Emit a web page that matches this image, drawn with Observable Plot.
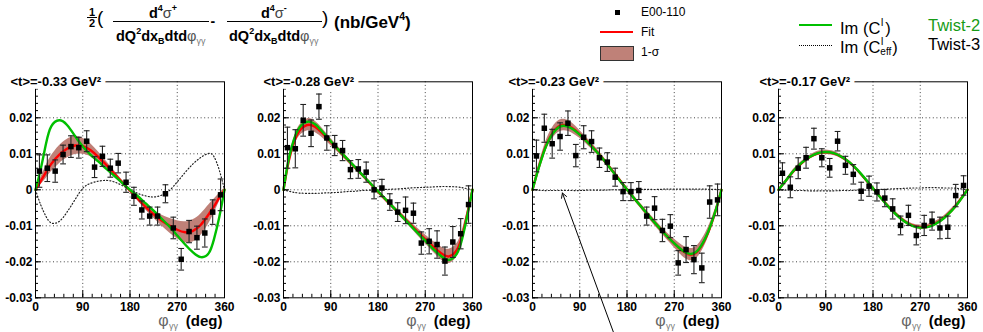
<!DOCTYPE html>
<html><head><meta charset="utf-8">
<script src="https://cdn.jsdelivr.net/npm/d3@7"></script>
<script src="https://cdn.jsdelivr.net/npm/@observablehq/plot@0.6"></script>
<style>
html,body{margin:0;padding:0;background:#fff;overflow:hidden;}
#root{position:relative;width:983px;height:332px;font-family:"Liberation Sans",Arial,Helvetica,sans-serif;color:#000;}
.t{position:absolute;white-space:nowrap;line-height:1;z-index:5;}
.sup{font-size:.62em;line-height:0;vertical-align:.75em;}
.sub{font-size:.62em;line-height:0;vertical-align:-.32em;}
.panel{position:absolute;top:60px;}
.sw{position:absolute;z-index:5;}
</style></head><body><div id="root"></div>
<script>
// ---------------- data ----------------
const phiBins = [7.5,22.5,37.5,52.5,67.5,82.5,97.5,112.5,127.5,142.5,157.5,172.5,187.5,202.5,217.5,232.5,247.5,262.5,277.5,292.5,307.5,322.5,337.5,352.5];
const panelTitles = ["<t>=-0.33 GeV²","<t>=-0.28 GeV²","<t>=-0.23 GeV²","<t>=-0.17 GeV²"];

const asym_033 = [0.0052,0.0060,0.0052,0.0098,0.0120,0.0117,0.0135,0.0063,0.0093,0.0060,0.0074,0.0021,-0.0018,-0.0056,-0.0073,-0.0073,-0.0011,-0.0106,-0.0193,-0.0116,-0.0133,-0.0120,-0.0062,-0.0014];
const err_033  = [0.0045,0.0037,0.0031,0.0026,0.0030,0.0029,0.0029,0.0029,0.0028,0.0025,0.0027,0.0028,0.0025,0.0025,0.0025,0.0025,0.0025,0.0030,0.0030,0.0031,0.0032,0.0039,0.0034,0.0044];
const asym_028 = [0.0117,0.0114,0.0193,0.0157,0.0231,0.0144,0.0123,0.0109,0.0056,0.0058,0.0049,0.0000,0.0005,-0.0034,-0.0062,-0.0057,-0.0065,-0.0148,-0.0143,-0.0152,-0.0198,-0.0145,-0.0122,-0.0041];
const err_028  = [0.0057,0.0053,0.0044,0.0037,0.0035,0.0034,0.0028,0.0028,0.0025,0.0026,0.0028,0.0025,0.0024,0.0023,0.0026,0.0037,0.0028,0.0031,0.0035,0.0038,0.0039,0.0043,0.0042,0.0052];
const asym_023 = [0.0094,0.0171,0.0128,0.0148,0.0185,0.0095,0.0146,0.0134,0.0089,0.0077,0.0035,-0.0005,-0.0005,-0.0002,-0.0073,-0.0051,-0.0113,-0.0101,-0.0203,-0.0166,-0.0194,-0.0217,-0.0034,-0.0028];
const err_023  = [0.0044,0.0039,0.0040,0.0038,0.0034,0.0031,0.0032,0.0030,0.0027,0.0026,0.0025,0.0025,0.0025,0.0025,0.0025,0.0032,0.0031,0.0032,0.0034,0.0036,0.0039,0.0041,0.0045,0.0044];
const asym_017 = [0.0046,0.0007,0.0060,0.0089,0.0142,0.0089,0.0061,0.0135,0.0068,0.0043,-0.0004,0.0010,-0.0006,-0.0023,-0.0053,-0.0099,-0.0071,-0.0127,-0.0099,-0.0087,-0.0106,-0.0104,-0.0016,0.0012];
const err_017  = [0.0029,0.0029,0.0029,0.0029,0.0029,0.0025,0.0026,0.0027,0.0025,0.0027,0.0025,0.0028,0.0025,0.0024,0.0028,0.0026,0.0028,0.0026,0.0028,0.0025,0.0030,0.0031,0.0031,0.0027];

const curvePhi = [0,10,20,30,45,60,75,90,105,120,135,150,165,180,195,210,225,240,255,270,285,300,315,330,340,350,360];
const fit_033  = [0,0.0024,0.0049,0.0072,0.0097,0.0114,0.0123,0.0121,0.0110,0.0091,0.0069,0.0045,0.0021,-0.0002,-0.0025,-0.0048,-0.0068,-0.0085,-0.0099,-0.0111,-0.0118,-0.0114,-0.0097,-0.0068,-0.0046,-0.0022,0];
const band_033 = [0.0003,0.0010,0.0018,0.0022,0.0025,0.0026,0.0025,0.0022,0.0018,0.0014,0.0010,0.0008,0.0006,0.0005,0.0006,0.0008,0.0011,0.0015,0.0020,0.0025,0.0029,0.0031,0.0030,0.0026,0.0020,0.0012,0.0004];
const tw2_033  = [0,0.0058,0.0128,0.0176,0.0193,0.0180,0.0150,0.0120,0.0097,0.0078,0.0058,0.0039,0.0019,0,-0.0018,-0.0038,-0.0058,-0.0080,-0.0102,-0.0127,-0.0152,-0.0174,-0.0187,-0.0176,-0.0137,-0.0076,0];
const tw3_033  = [0,-0.0042,-0.0074,-0.0092,-0.0088,-0.0062,-0.0028,0.0004,0.0018,0.0024,0.0026,0.0022,0.0012,0.0001,-0.0010,-0.0017,-0.0020,-0.0015,-0.0002,0.0022,0.0048,0.0072,0.0090,0.0101,0.0092,0.0055,0];

const fit_028  = [0,0.0080,0.0132,0.0163,0.0180,0.0175,0.0156,0.0133,0.0110,0.0087,0.0064,0.0041,0.0018,-0.0005,-0.0028,-0.0050,-0.0072,-0.0094,-0.0116,-0.0137,-0.0158,-0.0176,-0.0185,-0.0168,-0.0130,-0.0068,0];
const band_028 = [0.0003,0.0008,0.0012,0.0015,0.0017,0.0016,0.0013,0.0010,0.0008,0.0007,0.0006,0.0005,0.0005,0.0005,0.0005,0.0006,0.0007,0.0008,0.0010,0.0012,0.0015,0.0018,0.0020,0.0018,0.0014,0.0009,0.0004];
const tw2_028  = [0,0.0086,0.0140,0.0172,0.0189,0.0182,0.0160,0.0135,0.0111,0.0088,0.0065,0.0042,0.0019,-0.0004,-0.0027,-0.0050,-0.0073,-0.0096,-0.0119,-0.0141,-0.0164,-0.0184,-0.0195,-0.0178,-0.0138,-0.0073,0];
const tw3_028  = [0,-0.0004,-0.0007,-0.0009,-0.0010,-0.0010,-0.0009,-0.0008,-0.0007,-0.0005,-0.0004,-0.0002,-0.0001,0,0.0001,0.0002,0.0003,0.0005,0.0006,0.0007,0.0008,0.0009,0.0009,0.0008,0.0006,0.0003,0];

const fit_023  = [0,0.0053,0.0099,0.0136,0.0170,0.0180,0.0172,0.0154,0.0133,0.0110,0.0085,0.0057,0.0029,0.0001,-0.0026,-0.0052,-0.0078,-0.0103,-0.0127,-0.0149,-0.0169,-0.0180,-0.0170,-0.0134,-0.0098,-0.0053,0];
const band_023 = [0.0003,0.0008,0.0011,0.0014,0.0016,0.0016,0.0014,0.0011,0.0009,0.0008,0.0007,0.0006,0.0006,0.0006,0.0006,0.0007,0.0008,0.0009,0.0010,0.0012,0.0015,0.0017,0.0017,0.0015,0.0012,0.0008,0.0004];
const tw2_023  = [0,0.0052,0.0098,0.0135,0.0168,0.0178,0.0170,0.0153,0.0132,0.0109,0.0084,0.0056,0.0028,0.0001,-0.0026,-0.0052,-0.0078,-0.0103,-0.0127,-0.0149,-0.0168,-0.0178,-0.0168,-0.0132,-0.0096,-0.0052,0];
const tw3_023  = [0,-0.0001,-0.0002,-0.0002,-0.0002,-0.0002,-0.0002,-0.0002,-0.0001,-0.0001,-0.0001,0,0,0,0,0.0001,0.0001,0.0001,0.0002,0.0002,0.0002,0.0002,0.0002,0.0002,0.0001,0.0001,0];

const fit_017  = [0,0.0018,0.0036,0.0054,0.0075,0.0091,0.0101,0.0104,0.0101,0.0091,0.0076,0.0055,0.0030,0.0004,-0.0022,-0.0047,-0.0069,-0.0087,-0.0099,-0.0104,-0.0102,-0.0093,-0.0078,-0.0057,-0.0040,-0.0020,0];
const band_017 = [0.0002,0.0003,0.0004,0.0005,0.0005,0.0005,0.0006,0.0006,0.0006,0.0005,0.0005,0.0004,0.0004,0.0004,0.0004,0.0004,0.0005,0.0005,0.0005,0.0006,0.0006,0.0006,0.0005,0.0005,0.0004,0.0003,0.0002];
const tw2_017  = [0,0.0018,0.0037,0.0055,0.0076,0.0092,0.0102,0.0105,0.0102,0.0092,0.0077,0.0056,0.0031,0.0004,-0.0023,-0.0048,-0.0070,-0.0088,-0.0100,-0.0105,-0.0103,-0.0094,-0.0079,-0.0058,-0.0041,-0.0021,0];
const tw3_017  = [0,-0.0001,-0.0001,-0.0002,-0.0002,-0.0003,-0.0003,-0.0003,-0.0003,-0.0002,-0.0002,-0.0001,-0.0001,0,0.0001,0.0002,0.0003,0.0004,0.0005,0.0005,0.0006,0.0006,0.0005,0.0005,0.0004,0.0002,0];

const xTicks = [0,90,180,270,360];
const xTickLabels = ["0","90","180","270","360"];
const yTicks = [-0.03,-0.02,-0.01,0,0.01,0.02];
const yTickLabels = ["-0.03","-0.02","-0.01","0","0.01","0.02"];
const xGrid = [90,180,270];
const yGrid = [-0.02,-0.01,0,0.01,0.02];
const arrowAnno = [{x1:154, y1:-0.0395, x2:57, y2:-0.0009}]; // annotation in panel 3

const asyms = [asym_033, asym_028, asym_023, asym_017];
const errs = [err_033, err_028, err_023, err_017];
const fits = [fit_033, fit_028, fit_023, fit_017];
const bands = [band_033, band_028, band_023, band_017];
const tw2s = [tw2_033, tw2_028, tw2_023, tw2_017];
const tw3s = [tw3_033, tw3_028, tw3_023, tw3_017];

// ---------------- layout ----------------
const root = document.getElementById("root");
const panelLeft = [0, 247.7, 496.7, 743.3];
const titleDx = [-25, -20, -24, -19];
const FONT = '"Liberation Sans", Arial, Helvetica, sans-serif';
const capHalf = 5.5;
const xMinor = d3.range(0, 361, 18);
const yMinor = d3.range(-15, 16).map(k => k * 0.002);

function panel(i) {
  const pts = phiBins.map((phi, j) => ({phi, y: asyms[i][j], e: errs[i][j]}));
  const cur = curvePhi.map((phi, j) => ({phi, fit: fits[i][j], lo: fits[i][j] - bands[i][j], hi: fits[i][j] + bands[i][j], tw2: tw2s[i][j], tw3: tw3s[i][j]}));
  const marks = [
    Plot.ruleX(xGrid, {stroke: "#444", strokeDasharray: "1,2.6", strokeWidth: 1}),
    Plot.ruleY(yGrid, {stroke: "#444", strokeDasharray: "1,2.6", strokeWidth: 1}),
    Plot.areaY(cur, {x: "phi", y1: "lo", y2: "hi", fill: "#bf8178", curve: "natural"}),
    Plot.line(cur, {x: "phi", y: "tw3", stroke: "#222", strokeDasharray: "1,2.2", strokeWidth: 1.2, curve: "natural"}),
    Plot.line(cur, {x: "phi", y: "fit", stroke: "#ff0000", strokeWidth: 2.4, curve: "natural"}),
    Plot.line(cur, {x: "phi", y: "tw2", stroke: "#00c000", strokeWidth: 2.4, curve: "natural"}),
    Plot.ruleX(pts, {x: "phi", y1: d => d.y - d.e, y2: d => d.y + d.e, stroke: "#222", strokeWidth: 1.1}),
    Plot.link(pts, {x1: d => d.phi - capHalf, x2: d => d.phi + capHalf, y1: d => d.y + d.e, y2: d => d.y + d.e, stroke: "#222", strokeWidth: 1.1}),
    Plot.link(pts, {x1: d => d.phi - capHalf, x2: d => d.phi + capHalf, y1: d => d.y - d.e, y2: d => d.y - d.e, stroke: "#222", strokeWidth: 1.1}),
    Plot.dot(pts, {x: "phi", y: "y", symbol: "square", r: 3.1, fill: "#000"}),
    Plot.frame({stroke: "#000", strokeWidth: 1}),
    Plot.axisX(xMinor, {tickSize: -3.5, text: null, label: null}),
    Plot.axisX(xTicks, {tickSize: -7, tickPadding: 11.5, label: null, tickFormat: d => xTickLabels[xTicks.indexOf(d)], fontSize: 12, fontWeight: "bold"}),
    Plot.axisY(yMinor, {tickSize: -3, text: null, label: null}),
    Plot.axisY(yTicks, {tickSize: -6, tickPadding: 9, label: null, tickFormat: d => yTickLabels[yTicks.indexOf(d)], fontSize: 12, fontWeight: "bold"}),
    Plot.text([panelTitles[i]], {text: d => d, frameAnchor: "top-left", dx: titleDx[i], dy: 0, textAnchor: "start", lineAnchor: "middle", fontSize: 13, fontWeight: "bold", fill: "#000", stroke: "#fff", strokeWidth: 9}),
    Plot.text(["(deg)"], {text: d => d, frameAnchor: "bottom-right", textAnchor: "end", lineAnchor: "bottom", dx: -2, dy: 28.3, fontSize: 15, fontWeight: "bold"}),
    Plot.text(["φ"], {text: d => d, frameAnchor: "bottom-right", textAnchor: "end", lineAnchor: "bottom", dx: -56, dy: 28.3, fontSize: 16, fill: "#666"}),
    Plot.text(["γγ"], {text: d => d, frameAnchor: "bottom-right", textAnchor: "start", lineAnchor: "bottom", dx: -55.5, dy: 31.5, fontSize: 9, fill: "#777"})
  ];
  if (i === 2) marks.push(Plot.arrow(arrowAnno, {x1: "x1", y1: "y1", x2: "x2", y2: "y2", stroke: "#000", strokeWidth: 1, headLength: 8}));
  const svg = Plot.plot({
    width: 239, height: 272,
    marginLeft: 35, marginRight: 15, marginTop: 21.3, marginBottom: 34.7,
    x: {domain: [0, 360]},
    y: {domain: [-0.03, 0.03]},
    style: {fontFamily: FONT, fontSize: "12px", background: "transparent", overflow: "visible"},
    marks
  });
  svg.classList.add("panel");
  svg.style.left = panelLeft[i] + "px";
  svg.style.maxWidth = "none";
  root.appendChild(svg);
}
[0, 1, 2, 3].forEach(panel);

// ---------------- header (formula + legend) ----------------
function put(html, x, baseline, size, opts = {}) {
  const el = document.createElement("div");
  el.className = "t";
  el.innerHTML = html;
  el.style.fontSize = size + "px";
  el.style.fontWeight = opts.weight || "normal";
  el.style.color = opts.color || "#000";
  el.style.top = (baseline - 0.8465 * size) + "px";
  root.appendChild(el);
  const w = el.offsetWidth;
  el.style.left = (opts.anchor === "middle" ? x - w / 2 : opts.anchor === "end" ? x - w : x) + "px";
  return el;
}
function box(x, y, w, h, css) {
  const el = document.createElement("div");
  el.className = "sw";
  el.style.left = x + "px"; el.style.top = y + "px"; el.style.width = w + "px"; el.style.height = h + "px";
  Object.assign(el.style, css);
  root.appendChild(el);
}
const sig = '<span style="font-weight:normal;color:#444">σ</span>';
const phiSub = '<span style="font-weight:normal;color:#555">φ</span><span class="sub" style="font-weight:normal;color:#777">γγ</span>';
const denom = 'dQ<span class="sup">2</span>dx<span class="sub">B</span>dtd' + phiSub;
put("1", 92, 16, 11, {weight: "bold", anchor: "middle"});
box(87, 17, 10, 1.2, {background: "#000"});
put("2", 92, 27, 11, {weight: "bold", anchor: "middle"});
put("(", 97, 24, 19);
put('d<span class="sup">4</span>' + sig + '<span class="sup">+</span>', 163, 18, 14.5, {weight: "bold", anchor: "middle"});
box(113, 20.5, 96, 1.3, {background: "#000"});
put(denom, 161, 41, 14.5, {weight: "bold", anchor: "middle"});
put("-", 213, 26, 14, {weight: "bold", anchor: "middle"});
put('d<span class="sup">4</span>' + sig + '<span class="sup">-</span>', 274, 18, 14.5, {weight: "bold", anchor: "middle"});
box(227, 20.5, 95, 1.3, {background: "#000"});
put(denom, 274, 41, 14.5, {weight: "bold", anchor: "middle"});
put(")", 322, 24, 19);
put('(nb/GeV<span class="sup">4</span>)', 334, 28, 17, {weight: "bold"});

// legend left
box(614.5, 9.8, 5, 5, {background: "#000"});
put("E00-110", 641, 16.5, 12);
box(600, 31, 33, 2, {background: "#ff0000"});
put("Fit", 641, 36, 12);
box(600, 46, 34, 14.5, {background: "#bf8178", border: "1px solid #333", boxSizing: "border-box"});
put("1-σ", 641, 56.5, 12);

// legend right (font 16.5px -> superscript/subscript offsets in px)
const ssI = '<span style="position:relative;display:inline-block;width:5px;height:16.5px;"><span style="position:absolute;left:0.5px;top:1px;font-size:10px;line-height:10px">I</span></span>';
const ssIeff = '<span style="position:relative;display:inline-block;width:12px;height:16.5px;"><span style="position:absolute;left:0.5px;top:1px;font-size:10px;line-height:10px">I</span><span style="position:absolute;left:0;top:11px;font-size:10px;line-height:10px">eff</span></span>';
box(799, 24, 33, 2, {background: "#00c000"});
put("Im (C" + ssI + ")", 840, 31, 16.5);
put("Twist-2", 928, 31, 16.5, {color: "#169b16"});
box(799, 45, 33, 0, {borderTop: "1px dotted #000"});
put("Im (C" + ssIeff + ")", 840, 50, 16.5);
put("Twist-3", 928, 50, 16.5);
</script></body></html>
